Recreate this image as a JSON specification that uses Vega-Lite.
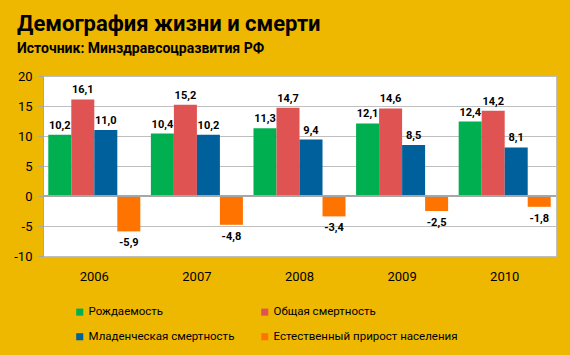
{
  "$schema": "https://vega.github.io/schema/vega-lite/v6.json",
  "width": 513,
  "height": 180,
  "autosize": {"type": "none"},
  "padding": {"left": 43, "top": 76, "right": 14, "bottom": 99},
  "background": "#EEB800",
  "config": {
    "locale": {"number": {"decimal": ",", "thousands": " ", "grouping": [3], "currency": ["", ""], "minus": "-"}},
    "view": {"fill": "white", "stroke": "#BFBFBF"},
    "font": "Roboto"
  },
  "title": {
    "text": "Демография жизни и смерти",
    "subtitle": "Источник: Минздравсоцразвития РФ",
    "anchor": "start",
    "frame": "group",
    "fontSize": 22,
    "fontWeight": "bold",
    "color": "black",
    "subtitleFontSize": 14,
    "subtitleFontWeight": "bold",
    "subtitleColor": "black",
    "subtitlePadding": 6,
    "dx": -26,
    "offset": 13
  },
  "data": {
    "values": [
      {"year": "2006", "series": "Рождаемость", "value": 10.2},
      {"year": "2006", "series": "Общая смертность", "value": 16.1},
      {"year": "2006", "series": "Младенческая смертность", "value": 11.0},
      {"year": "2006", "series": "Естественный прирост населения", "value": -5.9},
      {"year": "2007", "series": "Рождаемость", "value": 10.4},
      {"year": "2007", "series": "Общая смертность", "value": 15.2},
      {"year": "2007", "series": "Младенческая смертность", "value": 10.2},
      {"year": "2007", "series": "Естественный прирост населения", "value": -4.8},
      {"year": "2008", "series": "Рождаемость", "value": 11.3},
      {"year": "2008", "series": "Общая смертность", "value": 14.7},
      {"year": "2008", "series": "Младенческая смертность", "value": 9.4},
      {"year": "2008", "series": "Естественный прирост населения", "value": -3.4},
      {"year": "2009", "series": "Рождаемость", "value": 12.1},
      {"year": "2009", "series": "Общая смертность", "value": 14.6},
      {"year": "2009", "series": "Младенческая смертность", "value": 8.5},
      {"year": "2009", "series": "Естественный прирост населения", "value": -2.5},
      {"year": "2010", "series": "Рождаемость", "value": 12.4},
      {"year": "2010", "series": "Общая смертность", "value": 14.2},
      {"year": "2010", "series": "Младенческая смертность", "value": 8.1},
      {"year": "2010", "series": "Естественный прирост населения", "value": -1.8}
    ]
  },
  "encoding": {
    "y": {
      "field": "value",
      "type": "quantitative",
      "scale": {"domain": [-10, 20], "nice": false},
      "axis": {
        "title": null,
        "values": [-10, -5, 0, 5, 10, 15, 20],
        "format": "d",
        "gridColor": "#BFBFBF",
        "domainColor": "#A6A6A6",
        "tickColor": "#A6A6A6",
        "tickSize": 5,
        "labelPadding": 6,
        "labelFontSize": 13,
        "labelColor": "black"
      }
    }
  },
  "layer": [
    {
      "mark": {"type": "bar"},
      "encoding": {
        "x": {
          "field": "year",
          "type": "nominal",
          "scale": {"paddingInner": 0.103, "paddingOuter": 0.0515},
          "axis": {"title": null, "domain": false, "ticks": false, "labelPadding": 14, "labelFontSize": 13, "labelColor": "black", "labelAngle": 0}
        },
        "xOffset": {"field": "series", "type": "nominal", "sort": ["Рождаемость", "Общая смертность", "Младенческая смертность", "Естественный прирост населения"]},
        "color": {
          "field": "series",
          "type": "nominal",
          "sort": ["Рождаемость", "Общая смертность", "Младенческая смертность", "Естественный прирост населения"],
          "scale": {
            "domain": ["Рождаемость", "Общая смертность", "Младенческая смертность", "Естественный прирост населения"],
            "range": ["#00B050", "#DF5353", "#00609C", "#FF7300"]
          },
          "legend": {
            "orient": "none",
            "legendX": 31,
            "legendY": 230,
            "columns": 2,
            "columnPadding": 24,
            "rowPadding": 12,
            "direction": "horizontal",
            "title": null,
            "symbolType": "square",
            "symbolSize": 50,
            "symbolStrokeWidth": 0,
            "labelFontSize": 11.5,
            "labelLimit": 400,
            "labelColor": "black",
            "labelOffset": 3
          }
        }
      }
    },
    {
      "mark": {"type": "rule", "color": "#A6A6A6"},
      "encoding": {"y": {"datum": 0}}
    },
    {
      "transform": [{"filter": "datum.value >= 0"}],
      "mark": {"type": "text", "baseline": "bottom", "dy": -4, "fontSize": 11, "fontWeight": "bold", "color": "black"},
      "encoding": {
        "x": {"field": "year", "type": "nominal"},
        "xOffset": {"field": "series", "type": "nominal", "sort": ["Рождаемость", "Общая смертность", "Младенческая смертность", "Естественный прирост населения"]},
        "text": {"field": "value", "type": "quantitative", "format": ".1f"}
      }
    },
    {
      "transform": [{"filter": "datum.value < 0"}],
      "mark": {"type": "text", "baseline": "top", "dy": 6, "fontSize": 11, "fontWeight": "bold", "color": "black"},
      "encoding": {
        "x": {"field": "year", "type": "nominal"},
        "xOffset": {"field": "series", "type": "nominal", "sort": ["Рождаемость", "Общая смертность", "Младенческая смертность", "Естественный прирост населения"]},
        "text": {"field": "value", "type": "quantitative", "format": ".1f"}
      }
    }
  ]
}
